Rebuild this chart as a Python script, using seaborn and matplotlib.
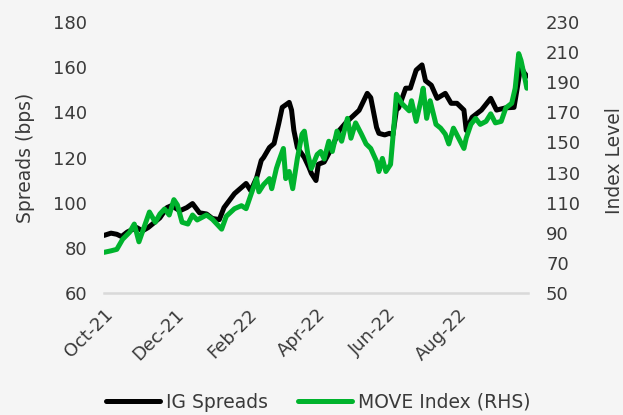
import matplotlib
matplotlib.use("Agg")
import matplotlib.pyplot as plt
import pandas as pd
import seaborn as sns

# IG credit spreads (bps), left axis
ig_dates = [
    "2021-10-01", "2021-10-07", "2021-10-12", "2021-10-16", "2021-10-21", "2021-10-25",
    "2021-10-29", "2021-11-03", "2021-11-08", "2021-11-12", "2021-11-18", "2021-11-24",
    "2021-11-28", "2021-12-05", "2021-12-11", "2021-12-16", "2021-12-22", "2021-12-28",
    "2022-01-02", "2022-01-08", "2022-01-12", "2022-01-21", "2022-01-27", "2022-01-31",
    "2022-02-04", "2022-02-09", "2022-02-13", "2022-02-15", "2022-02-20", "2022-02-24",
    "2022-02-28", "2022-03-03", "2022-03-09", "2022-03-11", "2022-03-13", "2022-03-16",
    "2022-03-22", "2022-03-26", "2022-03-28", "2022-04-01", "2022-04-03", "2022-04-08",
    "2022-04-12", "2022-04-16", "2022-04-21", "2022-04-27", "2022-05-02", "2022-05-08",
    "2022-05-15", "2022-05-18", "2022-05-23", "2022-05-25", "2022-05-30", "2022-06-03",
    "2022-06-06", "2022-06-09", "2022-06-11", "2022-06-17", "2022-06-21", "2022-06-26",
    "2022-07-01", "2022-07-04", "2022-07-09", "2022-07-14", "2022-07-21", "2022-07-26",
    "2022-07-31", "2022-08-06", "2022-08-08", "2022-08-13", "2022-08-21", "2022-08-29",
    "2022-09-03", "2022-09-11", "2022-09-18", "2022-09-20", "2022-09-24", "2022-09-26",
    "2022-09-29",
]
ig_values = [
    85.5, 86.5, 86.0, 85.0, 87.0, 88.0,
    89.0, 87.5, 89.0, 90.7, 93.3, 97.8,
    98.7, 96.4, 97.8, 99.6, 95.5, 95.0,
    93.0, 92.5, 97.8, 104.0, 106.7, 108.5,
    105.3, 111.0, 118.7, 120.0, 124.4, 126.2,
    135.0, 142.2, 144.4, 141.0, 132.0, 124.4,
    120.0, 115.6, 113.0, 109.8, 117.0, 118.0,
    121.8, 126.0, 132.0, 135.6, 138.0, 140.9,
    148.4, 146.5, 133.3, 130.7, 130.0, 130.7,
    130.0, 141.0, 142.0, 150.7, 150.7, 158.7,
    161.0, 154.0, 152.0, 146.2, 148.4, 144.0,
    144.0, 141.0, 132.0, 137.8, 141.0, 146.2,
    141.0, 142.0, 142.2, 148.4, 161.0, 158.0,
    156.0,
]

# MOVE index level, right axis
move_dates = [
    "2021-10-01", "2021-10-07", "2021-10-12", "2021-10-17", "2021-10-23", "2021-10-27",
    "2021-10-31", "2021-11-05", "2021-11-09", "2021-11-14", "2021-11-18", "2021-11-22",
    "2021-11-26", "2021-11-30", "2021-12-03", "2021-12-07", "2021-12-12", "2021-12-16",
    "2021-12-20", "2021-12-28", "2022-01-02", "2022-01-10", "2022-01-14", "2022-01-21",
    "2022-01-27", "2022-01-31", "2022-02-04", "2022-02-09", "2022-02-11", "2022-02-15",
    "2022-02-20", "2022-02-22", "2022-02-26", "2022-02-28", "2022-03-04", "2022-03-06",
    "2022-03-09", "2022-03-12", "2022-03-16", "2022-03-20", "2022-03-22", "2022-03-25",
    "2022-03-28", "2022-04-02", "2022-04-05", "2022-04-08", "2022-04-12", "2022-04-15",
    "2022-04-19", "2022-04-23", "2022-04-28", "2022-05-01", "2022-05-05", "2022-05-10",
    "2022-05-14", "2022-05-18", "2022-05-23", "2022-05-25", "2022-05-28", "2022-05-31",
    "2022-06-04", "2022-06-07", "2022-06-09", "2022-06-14", "2022-06-20", "2022-06-22",
    "2022-06-26", "2022-06-30", "2022-07-02", "2022-07-05", "2022-07-08", "2022-07-13",
    "2022-07-17", "2022-07-21", "2022-07-24", "2022-07-28", "2022-07-31", "2022-08-06",
    "2022-08-08", "2022-08-12", "2022-08-16", "2022-08-20", "2022-08-25", "2022-08-29",
    "2022-09-02", "2022-09-07", "2022-09-11", "2022-09-16", "2022-09-19", "2022-09-22",
    "2022-09-24", "2022-09-28", "2022-09-29",
]
move_values = [
    77.0, 78.0, 79.0, 85.7, 90.4, 95.8,
    84.0, 95.0, 103.8, 97.0, 102.5, 105.8,
    101.8, 112.0, 108.5, 97.0, 95.8, 101.8,
    98.5, 101.8, 99.0, 92.4, 101.0, 106.0,
    108.0, 106.0, 115.0, 126.0, 117.2, 122.0,
    126.0, 119.3, 132.7, 137.4, 146.0, 126.0,
    130.7, 119.3, 139.4, 155.5, 157.5, 142.0,
    132.7, 142.0, 144.0, 139.0, 150.8, 144.0,
    157.5, 150.8, 166.0, 152.8, 163.0, 155.5,
    149.0, 146.0, 137.4, 130.7, 139.4, 130.7,
    135.4, 162.0, 182.0, 175.6, 171.0, 177.7,
    164.0, 177.7, 186.0, 166.0, 177.7, 162.0,
    159.5, 155.5, 149.0, 159.5, 155.0, 146.0,
    153.0, 162.0, 166.0, 162.0, 164.0, 169.0,
    163.0, 164.0, 173.0, 176.0, 186.0, 209.0,
    204.5, 190.0, 186.0,
]

tick_dates = ["2021-10-01", "2021-12-01", "2022-02-01", "2022-04-01",
              "2022-06-01", "2022-08-01", "2022-09-30"]
tick_labels = ["Oct-21", "Dec-21", "Feb-22", "Apr-22", "Jun-22", "Aug-22", ""]

ig = pd.DataFrame({"date": pd.to_datetime(ig_dates), "value": ig_values})
move = pd.DataFrame({"date": pd.to_datetime(move_dates), "value": move_values})

BG = "#f5f5f5"
TEXT = "#3a3a3a"
AXIS = "#d9d9d9"
BLACK = "#000000"
GREEN = "#00b32d"
TICK_FS = 13
LABEL_FS = 13.5

sns.set_theme(style="white")
plt.rcParams["font.family"] = ["DejaVu Sans"]
plt.rcParams["text.color"] = TEXT
plt.rcParams["axes.labelcolor"] = TEXT
plt.rcParams["xtick.color"] = TEXT
plt.rcParams["ytick.color"] = TEXT

fig = plt.figure(figsize=(6.23, 4.15), dpi=100, facecolor=BG)
ax = fig.add_axes([104 / 623, 122 / 415, 424 / 623, 271 / 415])
ax.set_facecolor(BG)
ax2 = ax.twinx()

sns.lineplot(data=ig, x="date", y="value", ax=ax, color=BLACK, linewidth=3.6,
             label="IG Spreads", legend=False)
sns.lineplot(data=move, x="date", y="value", ax=ax2, color=GREEN, linewidth=3.6,
             label="MOVE Index (RHS)", legend=False)

ax.set_xlim(pd.Timestamp("2021-10-01"), pd.Timestamp("2022-09-30"))
ax.set_ylim(60, 180)
ax2.set_ylim(50, 230)
ax.set_yticks(range(60, 181, 20))
ax2.set_yticks(range(50, 231, 20))

ax.set_xticks(pd.to_datetime(tick_dates))
ax.set_xticklabels(tick_labels)
for lbl in ax.get_xticklabels():
    lbl.set_rotation(45)
    lbl.set_ha("right")
    lbl.set_rotation_mode("anchor")

for a in (ax, ax2):
    for side in ("left", "right", "top", "bottom"):
        a.spines[side].set_visible(False)
ax.spines["bottom"].set_visible(True)
ax.spines["bottom"].set_color(AXIS)
ax.spines["bottom"].set_linewidth(1.8)

ax.tick_params(axis="x", length=4, width=1.8, color=AXIS, labelsize=TICK_FS, pad=5)
ax.tick_params(axis="y", length=0, labelsize=TICK_FS, pad=12)
ax2.tick_params(axis="y", length=0, labelsize=TICK_FS, pad=13)

ax.set_xlabel("")
ax.set_ylabel("Spreads (bps)", fontsize=LABEL_FS, va="center")
ax2.set_ylabel("Index Level", fontsize=LABEL_FS, va="center")
ax.yaxis.set_label_coords(-0.186, 0.5)
ax2.yaxis.set_label_coords(1.203, 0.49)

handles = ax.get_lines()[:1] + ax2.get_lines()[:1]
labels = ["IG Spreads", "MOVE Index (RHS)"]
fig.legend(handles, labels, loc="center", bbox_to_anchor=(318 / 623, 13 / 415),
           ncol=2, frameon=False, fontsize=LABEL_FS, handlelength=2.9,
           handletextpad=0.3, columnspacing=1.6)

fig.savefig("out.png", dpi=100, facecolor=BG)
